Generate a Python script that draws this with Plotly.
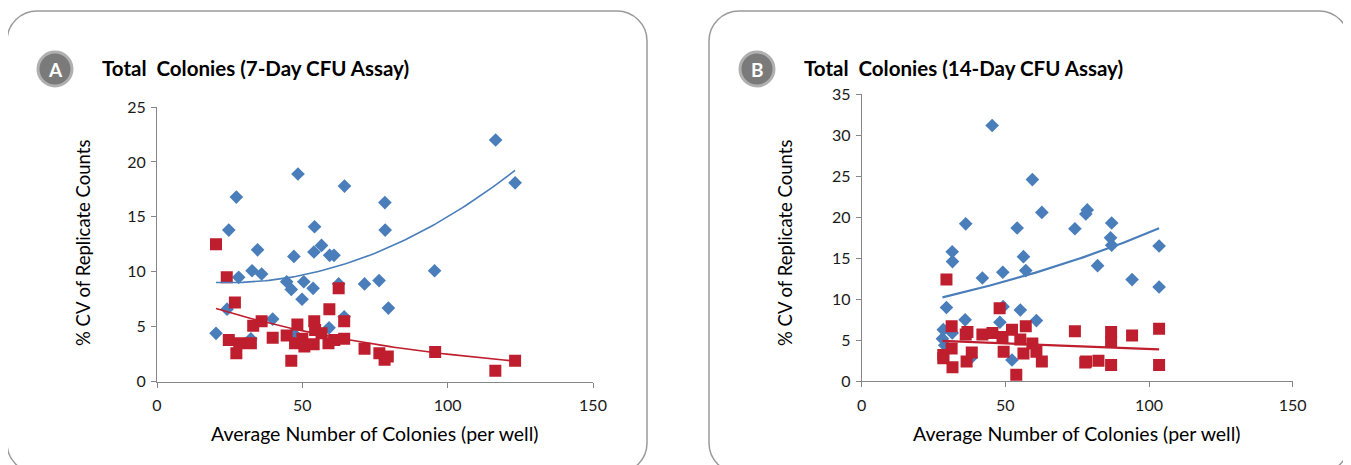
import numpy as np
import plotly.graph_objects as go

# ---------------- data ----------------
# Panel A: 7-day CFU assay
a_blue_x = [20.3, 24.1, 24.7, 27.3, 28.1, 32.7, 32.3, 34.6, 36.0, 39.8, 44.6, 46.2, 47.1, 48.5, 49.9, 50.5,
            46.9, 53.7, 54.0, 54.2, 56.6, 59.4, 60.9, 62.5, 59.2, 64.4, 64.5, 71.4, 76.4, 78.4, 78.5, 79.6,
            95.5, 116.5, 123.2]
a_blue_y = [4.4, 6.6, 13.8, 16.8, 9.5, 10.1, 3.9, 12.0, 9.8, 5.7, 9.1, 8.4, 11.4, 18.9, 7.5, 9.1,
            4.4, 8.5, 11.8, 14.1, 12.4, 11.5, 11.5, 8.9, 4.9, 5.9, 17.8, 8.9, 9.2, 16.3, 13.8, 6.7,
            10.1, 22.0, 18.1]
a_red_x = [20.3, 24.0, 26.8, 24.7, 27.3, 28.3, 32.3, 33.1, 36.0, 39.8, 44.6, 46.2, 48.3, 47.5, 50.0, 50.7,
           53.9, 54.1, 54.4, 56.6, 59.0, 59.3, 61.0, 62.5, 64.4, 64.4, 71.4, 76.5, 78.3, 79.4, 95.7,
           116.4, 123.2]
a_red_y = [12.5, 9.5, 7.2, 3.8, 2.6, 3.5, 3.5, 5.1, 5.5, 4.0, 4.2, 1.9, 5.2, 3.5, 3.9, 3.2,
           3.4, 5.5, 4.7, 4.4, 3.5, 6.6, 3.8, 8.5, 3.9, 5.5, 3.0, 2.6, 2.0, 2.3, 2.7,
           1.0, 1.9]

# Panel B: 14-day CFU assay
b_blue_x = [45.4, 59.4, 62.7, 78.0, 78.5, 74.2, 87.0, 86.6, 87.0, 82.1, 94.1, 103.5, 103.5, 36.2, 31.5,
            31.6, 42.0, 49.1, 54.1, 56.3, 57.1, 29.5, 49.2, 55.2, 36.0, 48.1, 60.8, 28.4, 31.5, 28.1,
            28.9, 38.2, 52.3]
b_blue_y = [31.2, 24.6, 20.6, 20.4, 20.9, 18.6, 19.3, 17.5, 16.6, 14.1, 12.4, 16.5, 11.5, 19.2, 15.8,
            14.6, 12.6, 13.3, 18.7, 15.2, 13.5, 9.0, 9.1, 8.7, 7.5, 7.2, 7.4, 6.3, 5.9, 5.2,
            4.4, 2.9, 2.6]
b_red_x = [29.5, 31.3, 28.4, 28.4, 31.3, 31.6, 36.2, 36.8, 36.5, 38.3, 42.0, 45.5, 48.0, 49.0, 49.4,
           52.3, 55.2, 56.3, 57.1, 59.4, 60.8, 62.7, 53.8, 74.2, 78.1, 82.4, 77.8, 86.8, 86.8, 86.8,
           94.1, 103.5, 103.5]
b_red_y = [12.4, 6.7, 3.2, 2.8, 4.0, 1.7, 5.7, 6.0, 2.4, 3.5, 5.7, 5.9, 8.9, 5.4, 3.6,
           6.3, 5.1, 3.4, 6.7, 4.6, 3.6, 2.4, 0.8, 6.1, 2.4, 2.5, 2.3, 6.0, 4.8, 2.0,
           5.6, 6.4, 2.0]

# Trendline values (x, y pairs on each fitted curve)
a_blue_trend_x = [20.3, 50.0, 123.2]      # 2nd-order polynomial
a_blue_trend_y = [9.03, 9.70, 19.24]
a_red_trend_x = [20.3, 123.2]             # exponential
a_red_trend_y = [6.67, 1.88]
b_blue_trend_x = [28.1, 103.5]            # exponential
b_blue_trend_y = [10.24, 18.66]
b_red_trend_x = [28.1, 103.5]             # exponential
b_red_trend_y = [4.92, 3.90]

titles = ["Total  Colonies (7-Day CFU Assay)", "Total  Colonies (14-Day CFU Assay)"]
badges = ["A", "B"]
x_title = "Average Number of Colonies (per well)"
y_title = "% CV of Replicate Counts"
x_ticks = [0, 50, 100, 150]
a_y_ticks = [0, 5, 10, 15, 20, 25]
b_y_ticks = [0, 5, 10, 15, 20, 25, 30, 35]

# ---------------- styling / layout ----------------
W, H = 1351, 465
OFF = 8          # the page body adds an 8px margin around the figure
BLUE = "#4A7EBB"
RED = "#BE1E2D"
AXIS = "#868686"
FONT = "Lato"


def fx(px):
    return (px - OFF) / W


def fy(py):
    return 1 - (py - OFF) / H


def poly_curve(xp, yp):
    c = np.polyfit(xp, yp, len(xp) - 1)
    xs = np.linspace(xp[0], xp[-1], 80)
    return xs, np.polyval(c, xs)


def exp_curve(xp, yp):
    b, a = np.polyfit(xp, np.log(yp), 1)
    xs = np.linspace(xp[0], xp[-1], 80)
    return xs, np.exp(a + b * xs)


fig = go.Figure()

panels = [
    dict(bx=a_blue_x, by=a_blue_y, rx=a_red_x, ry=a_red_y, xa="x", ya="y",
         btrend=poly_curve(a_blue_trend_x, a_blue_trend_y),
         rtrend=exp_curve(a_red_trend_x, a_red_trend_y), lw=1.6),
    dict(bx=b_blue_x, by=b_blue_y, rx=b_red_x, ry=b_red_y, xa="x2", ya="y2",
         btrend=exp_curve(b_blue_trend_x, b_blue_trend_y),
         rtrend=exp_curve(b_red_trend_x, b_red_trend_y), lw=2.2),
]

for p in panels:
    fig.add_trace(go.Scatter(x=p["bx"], y=p["by"], mode="markers", xaxis=p["xa"], yaxis=p["ya"],
                             marker=dict(symbol="diamond", size=10.5, color=BLUE, line=dict(width=0)),
                             showlegend=False, hoverinfo="x+y"))
    fig.add_trace(go.Scatter(x=p["rx"], y=p["ry"], mode="markers", xaxis=p["xa"], yaxis=p["ya"],
                             marker=dict(symbol="square", size=12, color=RED, line=dict(width=0)),
                             showlegend=False, hoverinfo="x+y"))
    xs, ys = p["btrend"]
    fig.add_trace(go.Scatter(x=xs, y=ys, mode="lines", xaxis=p["xa"], yaxis=p["ya"],
                             line=dict(color=BLUE, width=p["lw"]), showlegend=False, hoverinfo="skip"))
    xs, ys = p["rtrend"]
    fig.add_trace(go.Scatter(x=xs, y=ys, mode="lines", xaxis=p["xa"], yaxis=p["ya"],
                             line=dict(color=RED, width=p["lw"]), showlegend=False, hoverinfo="skip"))

# plot-area pixel geometry (screen pixels)
geo = [
    dict(x0=157, x1=593, y0=381.7, y1=107.0, ymax=25, yt=a_y_ticks, panel=(7, 647)),
    dict(x0=861.7, x1=1292.7, y0=381.3, y1=94.3, ymax=35, yt=b_y_ticks, panel=(709, 1349)),
]

axis_common = dict(showline=True, linecolor=AXIS, linewidth=1, ticks="outside", tickcolor=AXIS,
                   ticklen=5, tickwidth=1, showgrid=False, zeroline=False, automargin=False,
                   tickfont=dict(family=FONT, size=16, color="#1a1a1a"), fixedrange=True)

layout_axes = {}
for i, g in enumerate(geo):
    sfx = "" if i == 0 else str(i + 1)
    layout_axes["xaxis" + sfx] = dict(domain=[fx(g["x0"]), fx(g["x1"])], range=[0, 150],
                                      tickvals=x_ticks, anchor="y" + sfx, ticklabelstandoff=4,
                                      **axis_common)
    layout_axes["yaxis" + sfx] = dict(domain=[fy(g["y0"]), fy(g["y1"])], range=[0, g["ymax"]],
                                      tickvals=g["yt"], anchor="x" + sfx, ticklabelstandoff=2,
                                      **axis_common)

fig.update_layout(width=W, height=H, margin=dict(l=0, r=0, t=0, b=0, pad=0, autoexpand=False),
                  autosize=False, paper_bgcolor="white", plot_bgcolor="white", **layout_axes)


def rounded_rect(x0, y0, x1, y1, r):
    k = 0.5523 * r
    pts = [
        f"M {fx(x0 + r)},{fy(y0)}",
        f"L {fx(x1 - r)},{fy(y0)}",
        f"C {fx(x1 - r + k)},{fy(y0)} {fx(x1)},{fy(y0 + r - k)} {fx(x1)},{fy(y0 + r)}",
        f"L {fx(x1)},{fy(y1 - r)}",
        f"C {fx(x1)},{fy(y1 - r + k)} {fx(x1 - r + k)},{fy(y1)} {fx(x1 - r)},{fy(y1)}",
        f"L {fx(x0 + r)},{fy(y1)}",
        f"C {fx(x0 + r - k)},{fy(y1)} {fx(x0)},{fy(y1 - r + k)} {fx(x0)},{fy(y1 - r)}",
        f"L {fx(x0)},{fy(y0 + r)}",
        f"C {fx(x0)},{fy(y0 + r - k)} {fx(x0 + r - k)},{fy(y0)} {fx(x0 + r)},{fy(y0)}",
        "Z",
    ]
    return " ".join(pts)


shapes = []
annotations = []
for i, g in enumerate(geo):
    px0, px1 = g["panel"]
    shapes.append(dict(type="path", xref="paper", yref="paper",
                       path=rounded_rect(px0, 11, px1, 473, 30),
                       line=dict(color="#9a9a9a", width=1.5), fillcolor="rgba(0,0,0,0)", layer="below"))
    cx, cy, r = px0 + 48, 69, 17
    shapes.append(dict(type="circle", xref="paper", yref="paper",
                       x0=fx(cx - r), x1=fx(cx + r), y0=fy(cy + r), y1=fy(cy - r),
                       fillcolor="#7a7a7a", line=dict(color="#b0b0b0", width=3)))
    annotations.append(dict(text=f"<b>{badges[i]}</b>", xref="paper", yref="paper", x=fx(cx), y=fy(cy),
                            xanchor="center", yanchor="middle", showarrow=False,
                            font=dict(family=FONT, size=19, color="white")))
    annotations.append(dict(text=f"<b>{titles[i]}</b>", xref="paper", yref="paper",
                            x=fx(px0 + 93), y=fy(68), xanchor="left", yanchor="middle", showarrow=False,
                            font=dict(family=FONT, size=20.5, color="black")))
    annotations.append(dict(text=x_title, xref="paper", yref="paper",
                            x=fx((g["x0"] + g["x1"]) / 2), y=fy(433), xanchor="center", yanchor="middle",
                            showarrow=False, font=dict(family=FONT, size=19.5, color="black")))
    annotations.append(dict(text=y_title, xref="paper", yref="paper", textangle=-90,
                            x=fx(px0 + 76), y=fy(243), xanchor="center", yanchor="middle",
                            showarrow=False, font=dict(family=FONT, size=18.5, color="black")))

fig.update_layout(shapes=shapes, annotations=annotations)
fig.write_html("out.html")
